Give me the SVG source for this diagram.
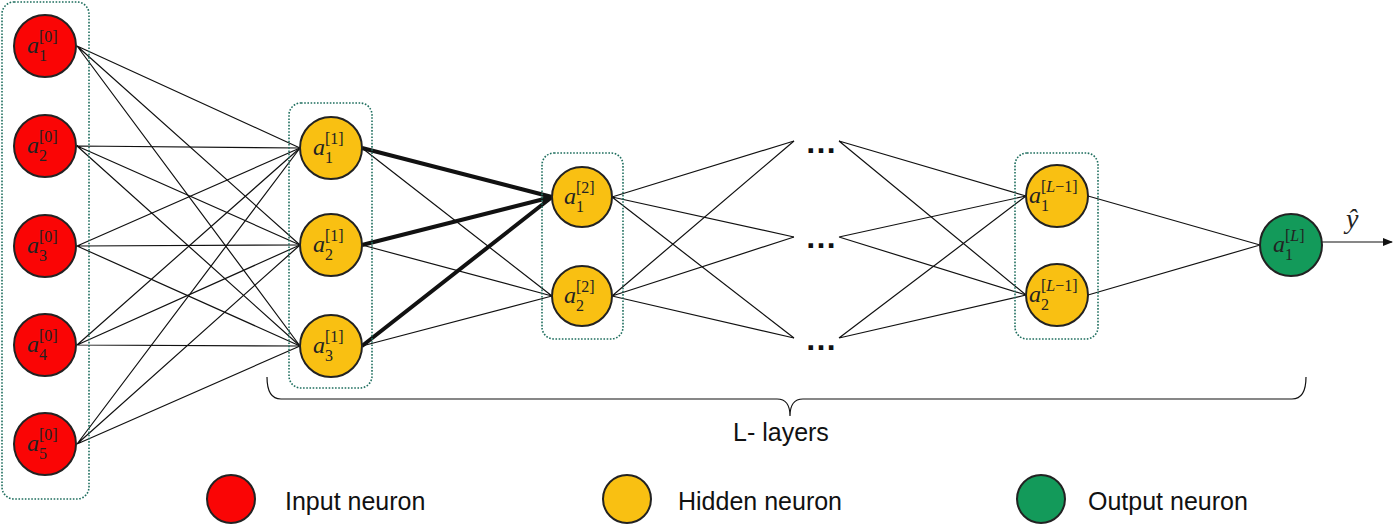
<svg xmlns="http://www.w3.org/2000/svg" width="1400" height="528" viewBox="0 0 1400 528">
<defs>
<style>
.box{fill:none;stroke:#1e6e5e;stroke-width:1.6;stroke-dasharray:1.6 1.6}
.in{fill:#fa0505;stroke:#222;stroke-width:2}
.hid{fill:#f9c012;stroke:#222;stroke-width:2}
.out{fill:#139a5a;stroke:#222;stroke-width:2}
.e{stroke:#111;stroke-width:1.2;fill:none}
.t{stroke:#111;stroke-width:4;fill:none}
.a{font-family:"Liberation Serif",serif;font-style:italic;font-size:24px;fill:#222}
.s{font-family:"Liberation Serif",serif;font-size:16px;fill:#222}
.si{font-family:"Liberation Serif",serif;font-size:16px;font-style:italic;fill:#222}
.lg{font-family:"Liberation Sans",Arial,sans-serif;font-size:25px;fill:#111}
.dots{font-family:"Liberation Sans",Arial,sans-serif;font-size:32px;font-weight:bold;fill:#111}
</style>
<marker id="arr" viewBox="0 0 10 10" refX="9" refY="5" markerWidth="10" markerHeight="10" markerUnits="userSpaceOnUse" orient="auto">
<path d="M0,1 L10,5 L0,9 z" fill="#111"/>
</marker>
</defs>
<rect width="1400" height="528" fill="#fff"/>

<g id="connectors">
<path class="e" d="M77,46 L300,148 M77,46 L300,245 M77,46 L300,346"/>
<path class="e" d="M77,146 L300,148 M77,146 L300,245 M77,146 L300,346"/>
<path class="e" d="M77,246 L300,148 M77,246 L300,245 M77,246 L300,346"/>
<path class="e" d="M77,345 L300,148 M77,345 L300,245 M77,345 L300,346"/>
<path class="e" d="M77,444 L300,148 M77,444 L300,245 M77,444 L300,346"/>
<path class="t" d="M362,148 L552,197 M362,245 L552,197 M362,346 L552,197"/>
<path class="e" d="M362,148 L552,296 M362,245 L552,296 M362,346 L552,296"/>
<path class="e" d="M612,197 L794,141 M612,197 L794,237 M612,197 L794,338"/>
<path class="e" d="M612,296 L794,141 M612,296 L794,237 M612,296 L794,338"/>
<path class="e" d="M839,141 L1026,196 M839,141 L1026,295"/>
<path class="e" d="M839,237 L1026,196 M839,237 L1026,295"/>
<path class="e" d="M839,338 L1026,196 M839,338 L1026,295"/>
<path class="e" d="M1088,196 L1260,245 M1088,295 L1260,245"/>
<path class="e" d="M1322,242 L1392,242" marker-end="url(#arr)"/>
</g>

<g id="layer0-box"><rect class="box" x="2" y="2" width="87" height="497" rx="12"/></g>
<g id="layer1-box"><rect class="box" x="289" y="103" width="83" height="285" rx="12"/></g>
<g id="layer2-box"><rect class="box" x="542" y="153" width="81" height="186" rx="12"/></g>
<g id="layerL1-box"><rect class="box" x="1015" y="153" width="83" height="186" rx="12"/></g>

<g id="a0_1"><circle class="in" cx="45" cy="46" r="31"/><text class="a" x="27" y="53">a</text><text class="s" x="39" y="42">[0]</text><text class="s" x="39" y="61">1</text></g>
<g id="a0_2"><circle class="in" cx="45" cy="146" r="31"/><text class="a" x="27" y="153">a</text><text class="s" x="39" y="142">[0]</text><text class="s" x="39" y="161">2</text></g>
<g id="a0_3"><circle class="in" cx="45" cy="246" r="31"/><text class="a" x="27" y="253">a</text><text class="s" x="39" y="242">[0]</text><text class="s" x="39" y="261">3</text></g>
<g id="a0_4"><circle class="in" cx="45" cy="345" r="31"/><text class="a" x="27" y="352">a</text><text class="s" x="39" y="341">[0]</text><text class="s" x="39" y="360">4</text></g>
<g id="a0_5"><circle class="in" cx="45" cy="444" r="31"/><text class="a" x="27" y="451">a</text><text class="s" x="39" y="440">[0]</text><text class="s" x="39" y="459">5</text></g>

<g id="a1_1"><circle class="hid" cx="331" cy="148" r="31"/><text class="a" x="313" y="155">a</text><text class="s" x="325" y="144">[1]</text><text class="s" x="325" y="163">1</text></g>
<g id="a1_2"><circle class="hid" cx="331" cy="245" r="31"/><text class="a" x="313" y="252">a</text><text class="s" x="325" y="241">[1]</text><text class="s" x="325" y="260">2</text></g>
<g id="a1_3"><circle class="hid" cx="331" cy="346" r="31"/><text class="a" x="313" y="353">a</text><text class="s" x="325" y="342">[1]</text><text class="s" x="325" y="361">3</text></g>

<g id="a2_1"><circle class="hid" cx="582" cy="197" r="30"/><text class="a" x="564" y="204">a</text><text class="s" x="576" y="193">[2]</text><text class="s" x="576" y="212">1</text></g>
<g id="a2_2"><circle class="hid" cx="582" cy="296" r="30"/><text class="a" x="564" y="303">a</text><text class="s" x="576" y="292">[2]</text><text class="s" x="576" y="311">2</text></g>

<g id="ellipsis">
<text class="dots" x="805" y="153">…</text>
<text class="dots" x="805" y="248">…</text>
<text class="dots" x="805" y="350">…</text>
</g>

<g id="aL1_1"><circle class="hid" cx="1057" cy="196" r="31"/><text class="a" x="1029" y="203">a</text><text class="s" x="1041" y="192">[<tspan class="si">L</tspan>−1]</text><text class="s" x="1041" y="211">1</text></g>
<g id="aL1_2"><circle class="hid" cx="1057" cy="295" r="31"/><text class="a" x="1029" y="302">a</text><text class="s" x="1041" y="291">[<tspan class="si">L</tspan>−1]</text><text class="s" x="1041" y="310">2</text></g>

<g id="aL_1"><circle class="out" cx="1291" cy="245" r="31"/><text class="a" x="1273" y="252">a</text><text class="s" x="1285" y="241">[<tspan class="si">L</tspan>]</text><text class="s" x="1285" y="260">1</text></g>

<g id="yhat"><text class="a" x="1346" y="228" style="font-size:28px">ŷ</text></g>

<g id="brace">
<path class="e" d="M267,377 Q267,399 281,399 L777,399 Q790,399 790,416 Q790,399 803,399 L1292,399 Q1306,399 1306,377"/>
<text class="lg" x="733" y="441">L- layers</text>
</g>

<g id="legend">
<circle class="in" cx="231" cy="499" r="24"/><text class="lg" x="285" y="510">Input neuron</text>
<circle class="hid" cx="627" cy="499" r="24"/><text class="lg" x="678" y="510">Hidden neuron</text>
<circle class="out" cx="1041" cy="499" r="24"/><text class="lg" x="1088" y="510">Output neuron</text>
</g>
</svg>
